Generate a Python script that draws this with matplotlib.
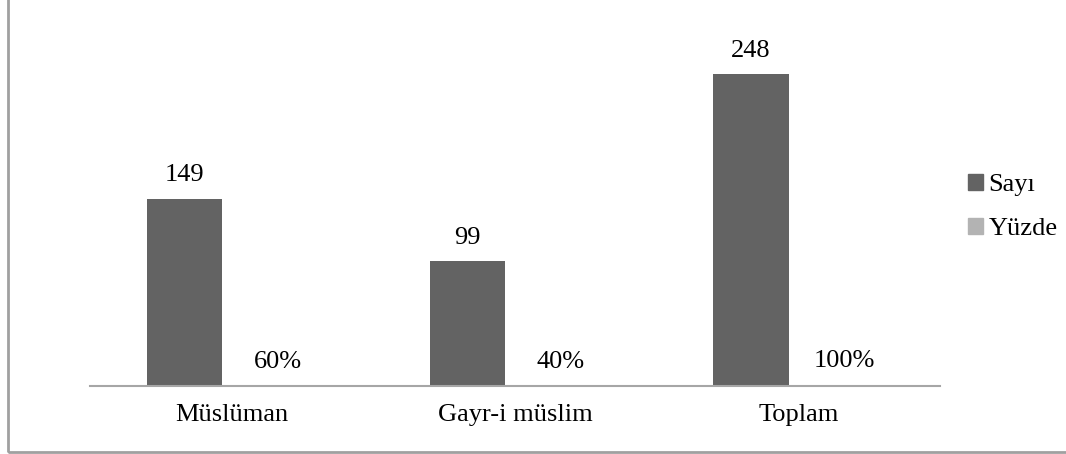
import matplotlib.pyplot as plt
from matplotlib.patches import Rectangle, Patch
import numpy as np

plt.rcParams['font.family'] = ['Liberation Serif', 'DejaVu Serif']

categories = ['Müslüman', 'Gayr-i müslim', 'Toplam']
sayi = [149, 99, 248]
yuzde = [0.60, 0.40, 1.00]
series_names = ['Sayı', 'Yüzde']
colors = ['#636363', '#b3b3b3']

fig = plt.figure(figsize=(10.66, 4.54), dpi=100)
ax = fig.add_axes([90 / 1066, 68 / 454, 850 / 1066, 377.4 / 454])

x = np.arange(len(categories))
w = 0.265
off = 0.167
b1 = ax.bar(x - off, sayi, w, color=colors[0])
b2 = ax.bar(x + off, yuzde, w, color=colors[1])

for rect, v in zip(b1, sayi):
    ax.annotate(str(v), (rect.get_x() + rect.get_width() / 2, rect.get_height()),
                xytext=(0, 9), textcoords='offset points', ha='center', va='bottom', fontsize=19)
for rect, v in zip(b2, yuzde):
    ax.annotate('{:.0f}%'.format(v * 100), (rect.get_x() + rect.get_width() / 2, rect.get_height()),
                xytext=(-1, 9), textcoords='offset points', ha='center', va='bottom', fontsize=19)

ax.set_xlim(-0.5, 2.5)
ax.set_ylim(0, 300)
ax.set_xticks(x)
ax.set_xticklabels(categories, fontsize=19)
ax.tick_params(axis='x', length=0, pad=13)
ax.set_yticks([])
for s in ['top', 'right', 'left']:
    ax.spines[s].set_visible(False)
ax.spines['bottom'].set_color('#a6a6a6')
ax.spines['bottom'].set_linewidth(1.5)

handles = [Patch(color=c) for c in colors]
fig.legend(handles, series_names, loc='center left', bbox_to_anchor=(944 / 1066, 1 - 207 / 454),
           frameon=False, fontsize=19, handlelength=0.58, handleheight=0.55,
           handletextpad=0.2, labelspacing=0.82)

fig.patches.append(Rectangle((8 / 1066, 2 / 454), 1.2, 1.2, transform=fig.transFigure,
                             fill=False, edgecolor='#a0a0a0', linewidth=2))

fig.savefig('out.png', dpi=100)
